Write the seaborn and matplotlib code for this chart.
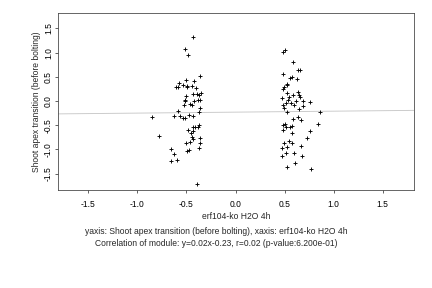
import numpy as np
import pandas as pd
import matplotlib
matplotlib.use("Agg")
import matplotlib.pyplot as plt
import seaborn as sns

# Points (left cluster, then right cluster)
left_x = [-0.43, -0.52, -0.48, -0.36, -0.42, -0.50, -0.58, -0.54, -0.61, -0.59,
          -0.49, -0.49, -0.44, -0.40, -0.43, -0.39, -0.37, -0.35, -0.50, -0.51,
          -0.52, -0.42, -0.38, -0.36, -0.53, -0.46, -0.44, -0.36, -0.37, -0.59,
          -0.85, -0.63, -0.57, -0.54, -0.51, -0.47, -0.43, -0.43, -0.41, -0.38,
          -0.37, -0.43, -0.48, -0.45, -0.44, -0.43, -0.36, -0.46, -0.50, -0.36,
          -0.49, -0.47, -0.37, -0.78, -0.66, -0.63, -0.66, -0.60, -0.39]
left_y = [1.33, 1.07, 0.96, 0.52, 0.41, 0.43, 0.38, 0.34, 0.29, 0.29,
          0.32, 0.28, 0.32, 0.26, 0.14, 0.14, 0.12, 0.17, 0.10, 0.02,
          0.00, 0.00, 0.03, 0.02, -0.08, -0.06, -0.09, -0.15, -0.23, -0.21,
          -0.34, -0.31, -0.31, -0.35, -0.35, -0.29, -0.31, -0.53, -0.54, -0.54,
          -0.50, -0.61, -0.60, -0.67, -0.75, -0.78, -0.76, -0.85, -0.87, -0.87,
          -1.03, -1.01, -0.97, -0.73, -0.99, -1.10, -1.24, -1.22, -1.71]
right_x = [0.48, 0.50, 0.59, 0.64, 0.66, 0.48, 0.56, 0.58, 0.63, 0.52,
           0.53, 0.49, 0.48, 0.53, 0.64, 0.65, 0.59, 0.55, 0.54, 0.47,
           0.62, 0.69, 0.76, 0.66, 0.48, 0.51, 0.57, 0.60, 0.69, 0.49,
           0.65, 0.53, 0.86, 0.59, 0.64, 0.67, 0.48, 0.50, 0.51, 0.56,
           0.58, 0.48, 0.58, 0.84, 0.76, 0.73, 0.49, 0.55, 0.58, 0.47,
           0.53, 0.67, 0.47, 0.51, 0.60, 0.68, 0.61, 0.52, 0.77]
right_y = [1.01, 1.05, 0.80, 0.65, 0.64, 0.56, 0.48, 0.50, 0.45, 0.35,
           0.33, 0.30, 0.24, 0.17, 0.19, 0.12, 0.12, 0.08, 0.03, 0.06,
           0.00, 0.00, -0.01, 0.08, -0.08, -0.05, -0.05, -0.09, -0.10, -0.14,
           -0.16, -0.22, -0.23, -0.37, -0.34, -0.39, -0.50, -0.48, -0.53, -0.53,
           -0.51, -0.59, -0.67, -0.48, -0.63, -0.77, -0.86, -0.83, -0.87, -0.97,
           -0.95, -0.94, -1.14, -1.08, -1.08, -1.14, -1.29, -1.36, -1.40]

slope = 0.02
intercept = -0.23
x_label = "erf104-ko H2O 4h"
y_label = "Shoot apex transition (before bolting)"
caption1 = "yaxis: Shoot apex transition (before bolting), xaxis: erf104-ko H2O 4h"
caption2 = "Correlation of module: y=0.02x-0.23, r=0.02 (p-value:6.200e-01)"
ticks = [-1.5, -1.0, -0.5, 0.0, 0.5, 1.0, 1.5]

df = pd.DataFrame({"x": left_x + right_x, "y": left_y + right_y})

sns.set_style("white")
plt.rcParams["font.family"] = ["Liberation Sans", "DejaVu Sans"]
plt.rcParams["font.size"] = 8.5

fig = plt.figure(figsize=(6, 4), dpi=72)
ax = fig.add_axes([58 / 432, 1 - 190 / 288, 356 / 432, 177 / 288])

ax.axline((0, intercept), slope=slope, color="#c8c8c8", linewidth=0.9, zorder=1)
sns.scatterplot(data=df, x="x", y="y", marker="+", color="black", s=18,
                linewidth=0.9, ax=ax, zorder=2)

ax.set_xlim(-1.81, 1.82)
ax.set_ylim(-1.84, 1.82)
ax.set_xticks(ticks)
ax.set_yticks(ticks)
ax.set_xticklabels([f"{t:.1f}" for t in ticks])
ax.set_yticklabels([f"{t:.1f}" for t in ticks], rotation=90, va="center")
ax.tick_params(direction="out", length=3, width=0.6, colors="black", pad=2,
               bottom=True, left=True)
ax.tick_params(axis="x", pad=7)
ax.set_xlabel(x_label, labelpad=3)
ax.set_ylabel(y_label, labelpad=3)
for sp in ax.spines.values():
    sp.set_color("#444444")
    sp.set_linewidth(0.8)

fig.text(0.5, 1 - 232 / 288, caption1, ha="center", va="center")
fig.text(0.5, 1 - 244 / 288, caption2, ha="center", va="center")

fig.savefig("out.png", dpi=72)
